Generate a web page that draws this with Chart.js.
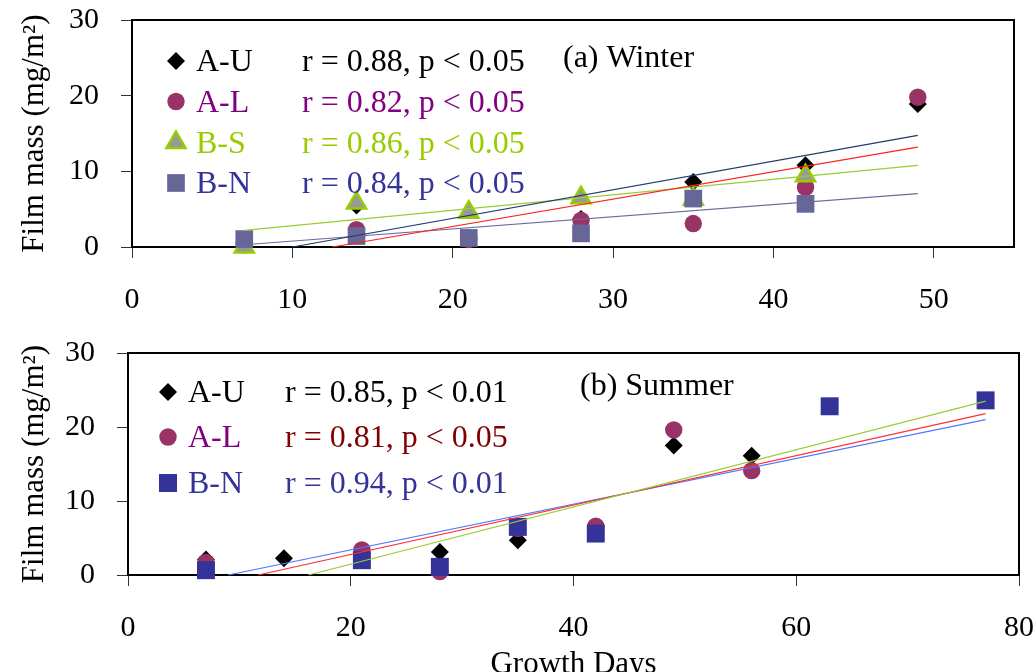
<!DOCTYPE html>
<html>
<head>
<meta charset="utf-8">
<script src="https://cdn.jsdelivr.net/npm/chart.js"></script>
<style>
  html, body { margin: 0; padding: 0; background: #fff; overflow: hidden; }
  .panel { position: absolute; left: 0; width: 1036px; }
  #winterBox { top: 0; height: 330px; }
  #summerBox { top: 330px; height: 360px; }
</style>
</head>
<body>
<div class="panel" id="winterBox"><canvas id="winter" width="1036" height="330"></canvas></div>
<div class="panel" id="summerBox"><canvas id="summer" width="1036" height="360"></canvas></div>
<script>
// (a) Winter - film mass vs growth days
const winterDays = [7, 14, 21, 28, 35, 42, 49];
const winterAU = [0.6, 5.5, 1.2, 3.7, 8.6, 10.8, 18.9];
const winterAL = [0.3, 2.3, 1.0, 3.5, 3.1, 7.9, 19.8];
const winterBS = [0.0, 5.8, 4.6, 6.5, 6.3, 9.4];
const winterBN = [1.05, 1.45, 1.2, 1.8, 6.4, 5.7];
// trend lines, [x, y] end points
const winterFitAU = [[10.0, 0], [49, 14.75]];
const winterFitAL = [[12.5, 0], [49, 13.2]];
const winterFitBS = [[7, 2.2], [49, 10.8]];
const winterFitBN = [[7, 0.3], [49, 7.05]];
const winterNames = ['A-U', 'A-L', 'B-S', 'B-N'];
const winterStats = ['r = 0.88, p < 0.05', 'r = 0.82, p < 0.05', 'r = 0.86, p < 0.05', 'r = 0.84, p < 0.05'];

// (b) Summer
const summerDaysAU = [7, 14, 21, 28, 35, 42, 49, 56];
const summerAU = [2.1, 2.25, 2.4, 3.1, 4.7, 5.7, 17.5, 16.1];
const summerDaysAL = [7, 21, 28, 35, 42, 49, 56];
const summerAL = [1.7, 3.4, 0.45, 6.3, 6.6, 19.6, 14.1];
const summerDaysBN = [7, 21, 28, 35, 42, 63, 77];
const summerBN = [0.65, 2.0, 1.1, 6.5, 5.6, 22.8, 23.6];
const summerFitAU = [[16.2, 0], [77, 23.5]];
const summerFitAL = [[11.7, 0], [77, 21.8]];
const summerFitBN = [[9.0, 0], [77, 21.0]];
const summerNames = ['A-U', 'A-L', 'B-N'];
const summerStats = ['r = 0.85, p < 0.01', 'r = 0.81, p < 0.05', 'r = 0.94, p < 0.01'];

const winterXTicks = [0, 10, 20, 30, 40, 50];
const summerXTicks = [0, 20, 40, 60, 80];
const yTicks = [0, 10, 20, 30];

const serif = 'Liberation Serif';
const tickFont = { family: serif, size: 30 };

// marker looks
const mkAU = { shape: 'rectRot', r: 9, fill: '#000000', stroke: '#000000', bw: 0 };
const mkAL = { shape: 'circle', r: 8.7, fill: '#993366', stroke: '#993366', bw: 0 };
const mkBS = { shape: 'triangle', r: 11, fill: '#999999', stroke: '#99cc00', bw: 2.5 };
const mkBNw = { shape: 'rect', r: 12.5, fill: '#666699', stroke: '#666699', bw: 0 };
const mkBNs = { shape: 'rect', r: 12.7, fill: '#333399', stroke: '#333399', bw: 0 };

const pts = (xs, ys) => xs.map((x, i) => ({ x: x, y: ys[i] }));
const pairs = p => p.map(v => ({ x: v[0], y: v[1] }));

function markerSet(data, mk, order) {
  return {
    type: 'scatter', data: data, order: order, clip: false,
    pointStyle: mk.shape, pointRadius: mk.r, pointHoverRadius: mk.r,
    backgroundColor: mk.fill, borderColor: mk.stroke, pointBorderWidth: mk.bw,
    showLine: false
  };
}
function fitLine(data, color) {
  return {
    type: 'line', data: data, order: 0, borderColor: color, borderWidth: 1.2,
    pointRadius: 0, showLine: true, fill: false, clip: false
  };
}

function drawMarker(ctx, mk, x, y) {
  ctx.save();
  ctx.fillStyle = mk.fill;
  ctx.strokeStyle = mk.stroke;
  ctx.lineWidth = mk.bw;
  Chart.helpers.drawPoint(ctx, { pointStyle: mk.shape, radius: mk.r, borderWidth: mk.bw, rotation: 0 }, x, y);
  ctx.restore();
}

// box round the plot area
const framePlugin = {
  id: 'frame',
  beforeDatasetsDraw(chart) {
    const { ctx, chartArea: a } = chart;
    ctx.save();
    ctx.strokeStyle = '#000';
    ctx.lineWidth = 2;
    ctx.strokeRect(a.left, a.top, a.right - a.left, a.bottom - a.top);
    ctx.restore();
  }
};

// legend with r / p text, drawn inside the plot
const notePlugin = {
  id: 'note',
  afterDatasetsDraw(chart, args, o) {
    const { ctx, chartArea: a } = chart;
    ctx.save();
    ctx.font = '32px "' + serif + '"';
    ctx.textBaseline = 'middle';
    ctx.textAlign = 'left';
    o.names.forEach((name, i) => {
      const y = a.top + o.rowY[i];
      drawMarker(ctx, o.markers[i], a.left + o.markX, y);
      ctx.fillStyle = o.nameColors[i];
      ctx.fillText(name, a.left + o.nameX, y + 2);
      ctx.fillStyle = o.statColors[i];
      ctx.fillText(o.stats[i], a.left + o.statX, y + 2);
    });
    ctx.fillStyle = '#000';
    ctx.fillText(o.title, a.left + o.titleX, a.top + o.titleY);
    ctx.restore();
  }
};

function yAxis(width) {
  return {
    type: 'linear', min: 0, max: 30,
    afterBuildTicks: s => { s.ticks = yTicks.map(v => ({ value: v })); },
    afterFit: s => { s.width = width; s.paddingTop = 0; s.paddingBottom = 0; },
    grid: { drawOnChartArea: false, drawTicks: true, tickLength: 11, color: '#333', lineWidth: 1 },
    border: { display: true, color: '#000', width: 2 },
    ticks: { font: tickFont, color: '#000', padding: 22 },
    title: { display: true, text: 'Film mass (mg/m²)', color: '#000', font: { family: serif, size: 31 }, padding: { top: 16, bottom: 0 } }
  };
}
function xAxis(max, tickVals, height, title) {
  return {
    type: 'linear', min: 0, max: max,
    afterBuildTicks: s => { s.ticks = tickVals.map(v => ({ value: v })); },
    afterFit: s => { s.height = height; s.paddingLeft = 0; s.paddingRight = 0; },
    grid: { drawOnChartArea: false, drawTicks: true, tickLength: 11, color: '#333', lineWidth: 1 },
    border: { display: true, color: '#000', width: 2 },
    ticks: { font: tickFont, color: '#000', padding: 24, maxRotation: 0, autoSkip: false },
    title: title
      ? { display: true, text: title, color: '#000', font: { family: serif, size: 31 }, padding: { top: 0, bottom: 7 } }
      : { display: false }
  };
}

const common = {
  responsive: false, animation: false, devicePixelRatio: 1,
  events: []
};

new Chart(document.getElementById('winter'), {
  type: 'scatter',
  data: {
    datasets: [
      markerSet(pts(winterDays, winterAU), mkAU, 5),
      markerSet(pts(winterDays, winterAL), mkAL, 4),
      markerSet(pts(winterDays.slice(0, 6), winterBS), mkBS, 3),
      markerSet(pts(winterDays.slice(0, 6), winterBN), mkBNw, 2),
      fitLine(pairs(winterFitAU), '#1f3a6a'),
      fitLine(pairs(winterFitAL), '#ff2020'),
      fitLine(pairs(winterFitBS), '#99cc33'),
      fitLine(pairs(winterFitBN), '#6a6a9e')
    ]
  },
  options: Object.assign({}, common, {
    layout: { padding: { left: 0, top: 20, right: 22, bottom: 0 } },
    scales: { x: xAxis(55, winterXTicks, 83, null), y: yAxis(132) },
    plugins: {
      legend: { display: false }, tooltip: { enabled: false },
      note: {
        names: winterNames, stats: winterStats,
        markers: [mkAU, mkAL, mkBS, mkBNw],
        nameColors: ['#000000', '#800080', '#99cc00', '#333399'],
        statColors: ['#000000', '#800080', '#99cc00', '#333399'],
        rowY: [41, 81.5, 122.5, 163], markX: 44, nameX: 64, statX: 170,
        title: '(a) Winter', titleX: 431, titleY: 39
      }
    }
  }),
  plugins: [framePlugin, notePlugin]
});

new Chart(document.getElementById('summer'), {
  type: 'scatter',
  data: {
    datasets: [
      markerSet(pts(summerDaysAU, summerAU), mkAU, 5),
      markerSet(pts(summerDaysAL, summerAL), mkAL, 4),
      markerSet(pts(summerDaysBN, summerBN), mkBNs, 2),
      fitLine(pairs(summerFitAU), '#99cc33'),
      fitLine(pairs(summerFitAL), '#ff3030'),
      fitLine(pairs(summerFitBN), '#4f78ff')
    ]
  },
  options: Object.assign({}, common, {
    layout: { padding: { left: 0, top: 23, right: 17, bottom: 0 } },
    scales: { x: xAxis(80, summerXTicks, 115, 'Growth Days'), y: yAxis(128) },
    plugins: {
      legend: { display: false }, tooltip: { enabled: false },
      note: {
        names: summerNames, stats: summerStats,
        markers: [mkAU, mkAL, mkBNs],
        nameColors: ['#000000', '#800080', '#333399'],
        statColors: ['#000000', '#800000', '#333399'],
        rowY: [39, 84, 130], markX: 40, nameX: 60, statX: 157,
        title: '(b) Summer', titleX: 452, titleY: 34
      }
    }
  }),
  plugins: [framePlugin, notePlugin]
});
</script>
</body>
</html>
